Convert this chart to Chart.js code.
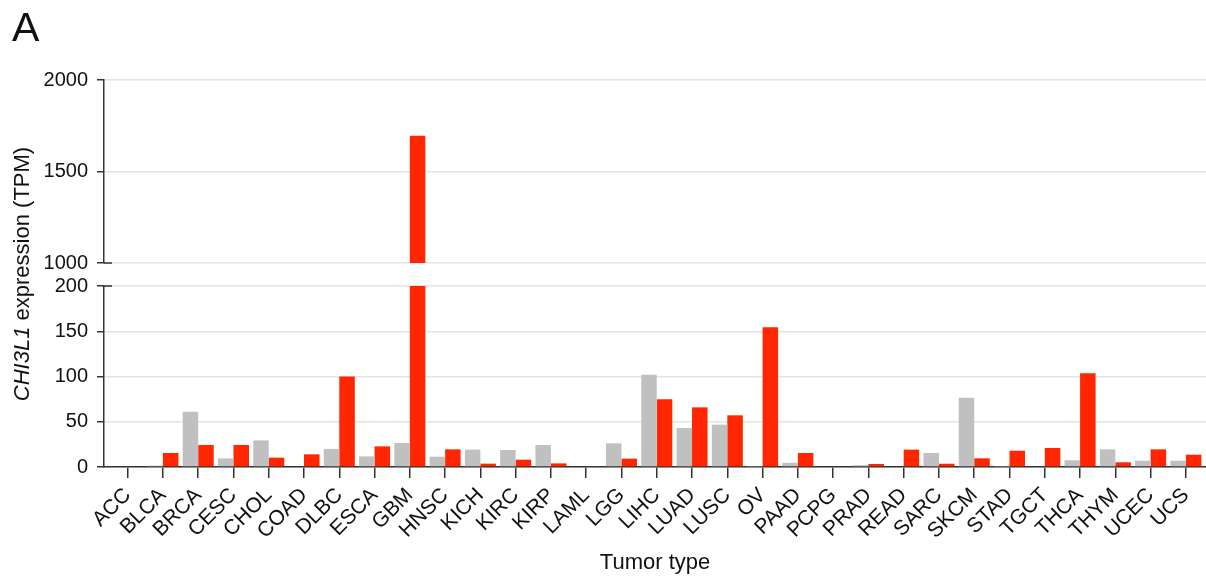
<!DOCTYPE html>
<html>
<head>
<meta charset="utf-8">
<script src="https://cdn.jsdelivr.net/npm/chart.js@4.4.1/dist/chart.umd.min.js"></script>
<style>
  body { margin: 0; background: #fff; font-family: "Liberation Sans", Arial, sans-serif; }
  #wrap { position: relative; width: 1206px; height: 576px; overflow: hidden; }
  #topChart { position: absolute; left: 0; top: 0; }
  #botChart { position: absolute; left: 0; top: 265px; }
  #panel { position: absolute; left: 12px; top: 3px; font-size: 41px; line-height: 48px; color: #111; }
  #ytitle {
    position: absolute; left: 22px; top: 274px; white-space: nowrap;
    font-size: 22px; color: #111;
    transform: translate(-50%, -50%) rotate(-90deg);
  }
</style>
</head>
<body>
<div id="wrap">
  <canvas id="topChart" width="1206" height="284"></canvas>
  <canvas id="botChart" width="1206" height="311"></canvas>
  <div id="panel">A</div>
  <div id="ytitle"><i>CHI3L1</i> expression (TPM)</div>
</div>
<script>
const tumorTypes = ['ACC', 'BLCA', 'BRCA', 'CESC', 'CHOL', 'COAD', 'DLBC', 'ESCA', 'GBM', 'HNSC',
    'KICH', 'KIRC', 'KIRP', 'LAML', 'LGG', 'LIHC', 'LUAD', 'LUSC', 'OV', 'PAAD', 'PCPG', 'PRAD',
    'READ', 'SARC', 'SKCM', 'STAD', 'TGCT', 'THCA', 'THYM', 'UCEC', 'UCS'];

// grey = normal tissue, red = tumor
const normalTPM = [0, 1.5, 61, 9.5, 29.4, 0, 20, 11.7, 26.5, 11.4,
    19.2, 18.8, 24.3, 0, 26.1, 102, 43, 46.8, 0.5, 4.6, 0, 2,
    0, 15.5, 76.6, 0.5, 0, 7.4, 19.5, 7, 7];
const tumorTPM = [0, 15.5, 24.3, 24.3, 10.3, 14, 100, 22.8, 1695, 19.5,
    3.7, 8.1, 4, 1, 9.2, 74.8, 65.9, 57.1, 154.3, 15.5, 0, 3.3,
    19.2, 3.6, 9.6, 18, 21, 103.5, 5.2, 19.5, 13.6];

const lowerTicks = [0, 50, 100, 150, 200];
const upperTicks = [1000, 1500, 2000];

const family = '"Liberation Sans", Arial, sans-serif';
const axisColor = '#333';
const gridColor = '#e4e4e4';
const textColor = '#111';

function points(values) {
    return values.map((v, i) => ({ x: i, y: v }));
}

function datasets() {
    return [
        { label: 'Normal', data: points(normalTPM), backgroundColor: '#c0c0c0' },
        { label: 'Tumor', data: points(tumorTPM), backgroundColor: '#ff2600' }
    ];
}

// short dark stub to the right of the axis where the y axis is broken
function breakMark(edge) {
    return {
        id: 'breakMark',
        afterDraw(chart) {
            const { ctx, chartArea } = chart;
            const y = edge === 'bottom' ? chartArea.bottom : chartArea.top;
            ctx.save();
            ctx.strokeStyle = axisColor;
            ctx.lineWidth = 1.5;
            ctx.beginPath();
            ctx.moveTo(chartArea.left, y);
            ctx.lineTo(chartArea.left + 8, y);
            ctx.stroke();
            ctx.restore();
        }
    };
}

function xScale(show) {
    return {
        type: 'linear',
        display: show,
        min: -0.67,
        max: 30.57,
        offset: false,
        border: { color: axisColor, width: 1.5 },
        grid: { offset: false, drawOnChartArea: false, color: axisColor, tickColor: axisColor,
                tickLength: 11, lineWidth: 1.5 },
        ticks: {
            stepSize: 1, includeBounds: false, autoSkip: false,
            minRotation: 45, maxRotation: 45, padding: 5,
            color: textColor, font: { family: family, size: 21 },
            callback: v => tumorTypes[v]
        },
        title: { display: show, text: 'Tumor type', color: textColor, font: { family: family, size: 22 },
                 padding: { top: 0, bottom: 0 } },
        afterFit: s => {
            if (show) s.height = 109;
            // keep both panels the same width
            s.paddingLeft = 0;
            s.paddingRight = 0;
        }
    };
}

function yScale(tickValues) {
    const lo = tickValues[0];
    const hi = tickValues[tickValues.length - 1];
    return {
        min: lo, max: hi,
        border: { color: axisColor, width: 1.5 },
        grid: { color: gridColor, lineWidth: 1.5, tickColor: axisColor, tickLength: 7, tickWidth: 1.5 },
        ticks: { stepSize: tickValues[1] - tickValues[0], color: textColor,
                 font: { family: family, size: 20 }, padding: 9, callback: v => String(v) },
        afterFit: s => { s.width = 104; }
    };
}

function makeChart(id, ticks, showX, padding, edge) {
    return new Chart(document.getElementById(id), {
        type: 'bar',
        data: { datasets: datasets() },
        options: {
            responsive: false,
            animation: false,
            devicePixelRatio: 1,
            categoryPercentage: 0.88,
            barPercentage: 1.0,
            layout: { padding: padding },
            plugins: { legend: { display: false }, tooltip: { enabled: false } },
            scales: { x: xScale(showX), y: yScale(ticks) }
        },
        plugins: [breakMark(edge)]
    });
}

makeChart('topChart', upperTicks, false, { top: 80, bottom: 0, left: 0, right: 0 }, 'bottom');
makeChart('botChart', lowerTicks, true, { top: 16, bottom: 0, left: 0, right: 0 }, 'top');
</script>
</body>
</html>
